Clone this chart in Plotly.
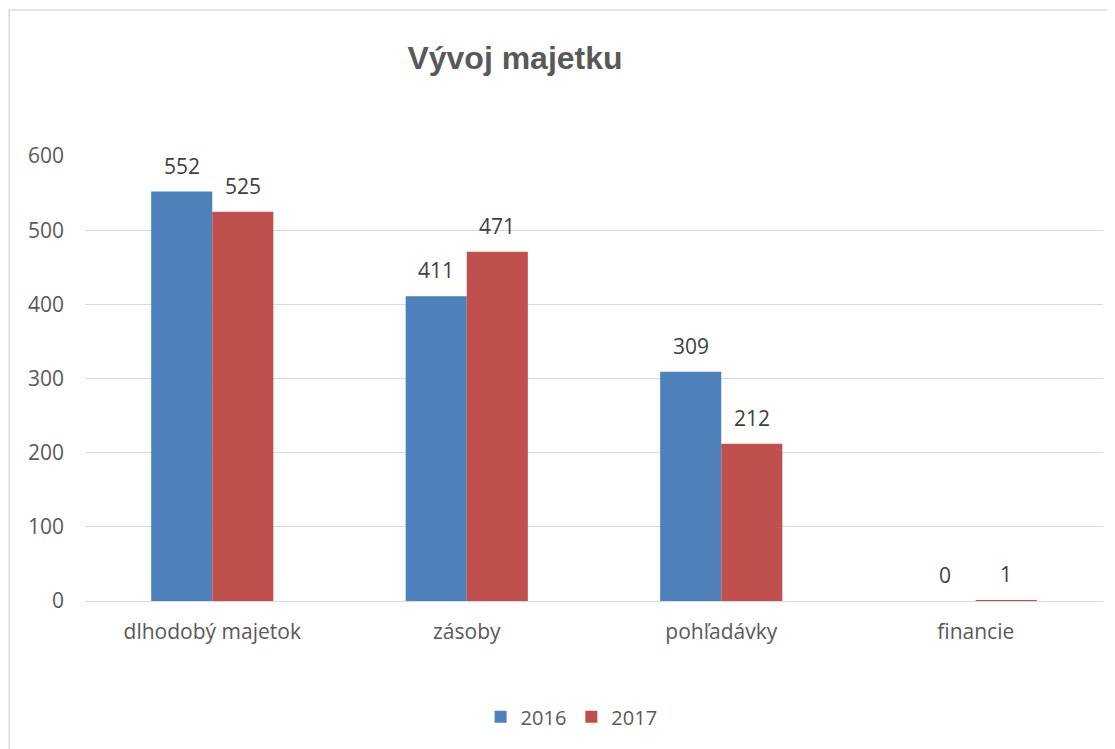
import plotly.graph_objects as go

categories = ["dlhodobý majetok", "zásoby", "pohľadávky", "financie"]
years = ["2016", "2017"]
values_2016 = [552, 411, 309, 0]
values_2017 = [525, 471, 212, 1]
colors = ["#4F81BD", "#C0504D"]
y_ticks = [0, 100, 200, 300, 400, 500, 600]

font_body = "Open Sans, Liberation Sans, sans-serif"

# plot area size (px) and bar layout, used to place the value labels
plot_w = 1018
bargap = 0.52
bar_w = plot_w / len(categories) * (1 - bargap) / 2

fig = go.Figure()
for i, (name, vals) in enumerate(zip(years, [values_2016, values_2017])):
    fig.add_trace(go.Bar(x=categories, y=vals, name=name,
                         marker=dict(color=colors[i], line=dict(width=0))))
    for c, v in zip(categories, vals):
        fig.add_annotation(x=c, y=v, text=str(v), showarrow=False,
                           xshift=(i - 0.5) * bar_w, yshift=10, yanchor="bottom",
                           font=dict(size=21, color="#404040", family=font_body))

# page body adds an 8px margin, so the figure is drawn 8px smaller
fig.update_layout(
    width=1107, height=741,
    margin=dict(l=77, r=12, t=148, b=148),
    paper_bgcolor="white", plot_bgcolor="white",
    barmode="group", bargap=bargap, bargroupgap=0,
    font=dict(family=font_body, size=21, color="#595959"),
    title=dict(text="<b>Vývoj majetku</b>", xref="paper", x=0.4224, xanchor="center",
               y=0.9325, yanchor="middle",
               font=dict(family="Liberation Sans, Arial, sans-serif", size=32, color="#595959")),
    legend=dict(orientation="h", x=0.478, xanchor="center", y=-0.26, yanchor="middle",
                font=dict(size=20, color="#595959"), itemwidth=30),
    showlegend=True,
)
fig.update_xaxes(showgrid=False, showline=False, ticks="", ticklabelstandoff=16,
                 tickfont=dict(size=21, color="#595959"))
fig.update_yaxes(range=[0, 600], tickvals=y_ticks, showgrid=True, gridcolor="#D9D9D9",
                 gridwidth=1.3, zeroline=True, zerolinecolor="#D9D9D9", zerolinewidth=1.3,
                 showline=False, ticks="", ticklabelstandoff=20,
                 tickfont=dict(size=21, color="#595959"))

# outer chart border
fig.add_shape(type="rect", xref="paper", yref="paper", x0=-0.0745, x1=1.05, y0=-0.5, y1=1.328,
              line=dict(color="#D9D9D9", width=1.5), fillcolor="rgba(0,0,0,0)", layer="below")

fig.write_html("out.html")
